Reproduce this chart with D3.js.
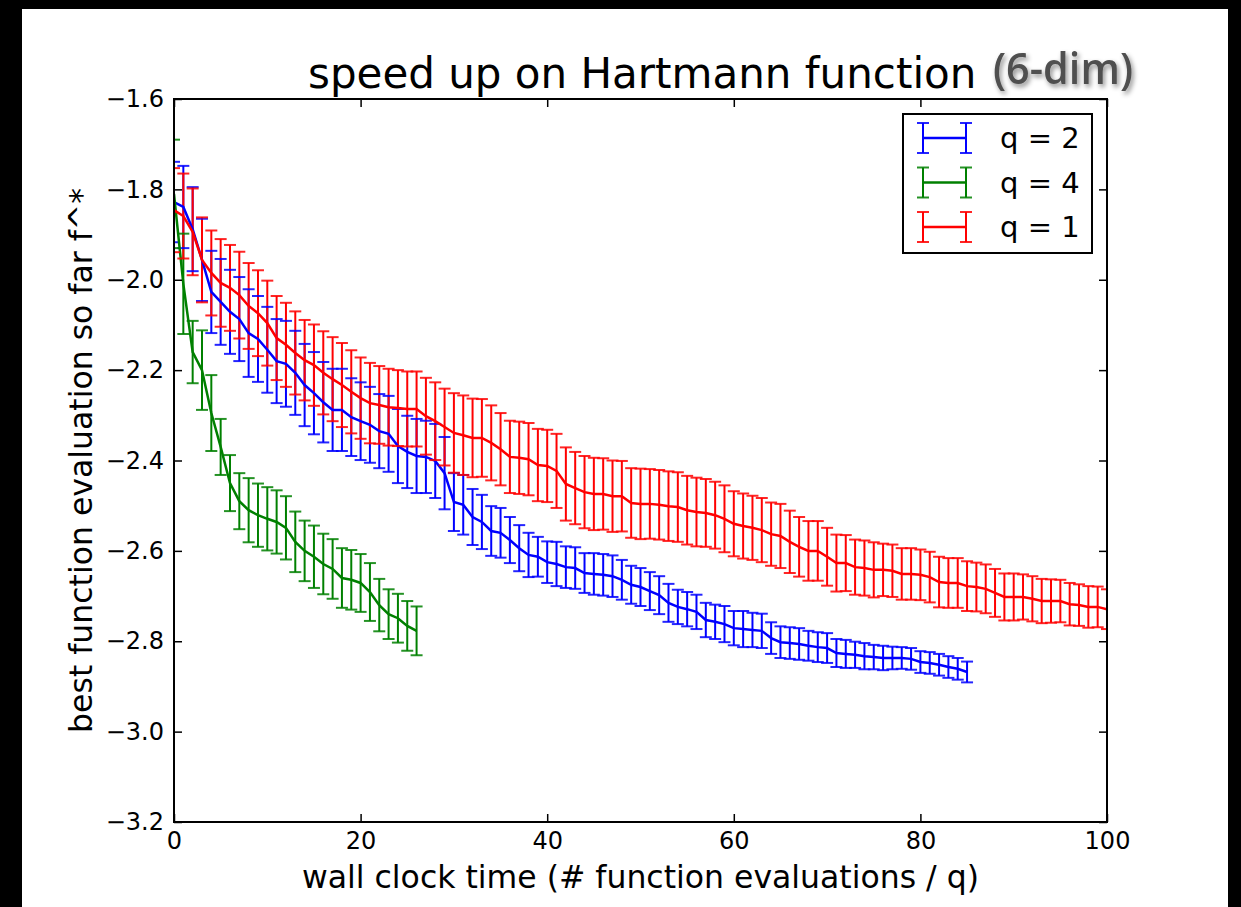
<!DOCTYPE html>
<html>
<head>
<meta charset="utf-8">
<script src="https://cdn.jsdelivr.net/npm/d3@7"></script>
<style>
  html, body { margin: 0; padding: 0; background: #000; }
  svg { display: block; }
  text { font-family: "DejaVu Sans", sans-serif; }
</style>
</head>
<body>
<svg id="chart" width="1241" height="907"></svg>
<script>
// values, one point per integer step of wall clock time
var q2_mean = [-1.828,-1.839,-1.888,-1.956,-2.027,-2.049,-2.071,-2.087,-2.118,-2.131,
  -2.155,-2.180,-2.186,-2.206,-2.233,-2.251,-2.271,-2.288,-2.288,-2.304,
  -2.313,-2.321,-2.335,-2.341,-2.368,-2.381,-2.390,-2.392,-2.401,-2.428,
  -2.492,-2.498,-2.525,-2.536,-2.556,-2.560,-2.576,-2.594,-2.609,-2.613,
  -2.625,-2.629,-2.636,-2.638,-2.649,-2.651,-2.653,-2.656,-2.664,-2.675,
  -2.680,-2.689,-2.698,-2.715,-2.724,-2.729,-2.735,-2.753,-2.757,-2.762,
  -2.771,-2.773,-2.775,-2.777,-2.793,-2.802,-2.804,-2.806,-2.810,-2.813,
  -2.815,-2.826,-2.828,-2.830,-2.833,-2.835,-2.837,-2.837,-2.837,-2.839,
  -2.846,-2.848,-2.852,-2.857,-2.861,-2.868];
var q2_err = [0.089,0.091,0.093,0.091,0.091,0.095,0.093,0.093,0.097,0.095,
  0.095,0.093,0.095,0.093,0.091,0.091,0.089,0.091,0.091,0.086,
  0.086,0.084,0.082,0.084,0.082,0.080,0.082,0.080,0.082,0.080,
  0.064,0.066,0.062,0.060,0.055,0.055,0.051,0.051,0.049,0.044,
  0.046,0.049,0.046,0.046,0.044,0.046,0.046,0.046,0.044,0.042,
  0.042,0.042,0.042,0.042,0.038,0.038,0.038,0.038,0.038,0.040,
  0.038,0.040,0.038,0.038,0.035,0.035,0.035,0.035,0.033,0.033,
  0.033,0.031,0.031,0.029,0.029,0.027,0.027,0.025,0.024,0.024,
  0.024,0.024,0.024,0.024,0.024,0.023];

var q4_mean = [-1.810,-2.009,-2.160,-2.200,-2.295,-2.370,-2.450,-2.490,-2.510,-2.521,
  -2.529,-2.536,-2.549,-2.580,-2.600,-2.613,-2.629,-2.640,-2.660,-2.664,
  -2.671,-2.691,-2.720,-2.740,-2.749,-2.766,-2.777];
var q4_err = [0.120,0.111,0.069,0.088,0.084,0.062,0.062,0.062,0.071,0.070,
  0.070,0.070,0.070,0.067,0.067,0.069,0.067,0.066,0.066,0.066,
  0.064,0.064,0.058,0.055,0.054,0.055,0.054];

var q1_mean = [-1.846,-1.859,-1.894,-1.956,-1.985,-2.007,-2.018,-2.034,-2.058,-2.074,
  -2.096,-2.129,-2.144,-2.162,-2.178,-2.189,-2.206,-2.220,-2.233,-2.248,
  -2.262,-2.273,-2.277,-2.282,-2.284,-2.286,-2.286,-2.302,-2.313,-2.326,
  -2.339,-2.344,-2.350,-2.350,-2.361,-2.375,-2.392,-2.394,-2.397,-2.410,
  -2.412,-2.423,-2.452,-2.461,-2.470,-2.474,-2.474,-2.479,-2.479,-2.494,
  -2.496,-2.496,-2.498,-2.501,-2.503,-2.510,-2.514,-2.516,-2.521,-2.529,
  -2.540,-2.545,-2.549,-2.554,-2.563,-2.567,-2.580,-2.591,-2.600,-2.600,
  -2.613,-2.627,-2.627,-2.636,-2.638,-2.642,-2.642,-2.644,-2.651,-2.651,
  -2.653,-2.658,-2.669,-2.671,-2.671,-2.678,-2.680,-2.684,-2.693,-2.702,
  -2.702,-2.702,-2.706,-2.711,-2.711,-2.711,-2.718,-2.720,-2.724,-2.724,
  -2.729];
var q1_err = [0.093,0.094,0.096,0.094,0.094,0.097,0.095,0.096,0.095,0.095,0.094,
  0.093,0.093,0.092,0.089,0.090,0.092,0.093,0.093,0.092,0.090,
  0.089,0.086,0.085,0.084,0.083,0.083,0.085,0.086,0.085,0.088,
  0.088,0.087,0.086,0.083,0.080,0.080,0.080,0.080,0.080,0.080,
  0.082,0.081,0.080,0.080,0.080,0.079,0.079,0.078,0.077,0.078,
  0.077,0.077,0.077,0.077,0.076,0.076,0.075,0.074,0.074,0.072,
  0.072,0.071,0.071,0.070,0.071,0.069,0.066,0.066,0.066,0.064,
  0.063,0.062,0.061,0.061,0.061,0.058,0.058,0.057,0.057,0.056,
  0.056,0.056,0.055,0.055,0.055,0.054,0.054,0.053,0.052,0.052,
  0.050,0.050,0.049,0.048,0.047,0.047,0.046,0.046,0.045,0.044];

var series_names = ["q = 2", "q = 4", "q = 1"];
var series_colors = ["#0000ff", "#008000", "#ff0000"];
var x_ticks = [0, 20, 40, 60, 80, 100];
var y_ticks = [-3.2, -3.0, -2.8, -2.6, -2.4, -2.2, -2.0, -1.8, -1.6];

main();

function main() {
    var svg = d3.select("#chart");
    var L = 174, R = 1107, T = 99, B = 822;

    // slide background
    svg.append("rect")
        .attr("x", 22).attr("y", 9)
        .attr("width", 1206).attr("height", 910)
        .attr("fill", "#fff");

    var defs = svg.append("defs");
    defs.append("clipPath").attr("id", "plot_clip")
        .append("rect")
        .attr("x", L).attr("y", T)
        .attr("width", R - L).attr("height", B - T);
    var shadow = defs.append("filter").attr("id", "shadow")
        .attr("x", "-20%").attr("y", "-20%")
        .attr("width", "140%").attr("height", "160%");
    shadow.append("feDropShadow")
        .attr("dx", 2).attr("dy", 3)
        .attr("stdDeviation", 2.5)
        .attr("flood-color", "#000")
        .attr("flood-opacity", 0.45);

    var x = d3.scaleLinear().domain([0, 100]).range([L, R]);
    var y = d3.scaleLinear().domain([-3.2, -1.6]).range([B, T]);

    var series = [
        { mean: q2_mean, err: q2_err },
        { mean: q4_mean, err: q4_err },
        { mean: q1_mean, err: q1_err }
    ];
    series.forEach(function (s, k) {
        s.name = series_names[k];
        s.color = series_colors[k];
        s.pts = s.mean.map(function (m, i) {
            return { t: i, m: m, e: s.err[i] };
        });
    });

    var plot = svg.append("g").attr("clip-path", "url(#plot_clip)");

    // vertical error bars first (they sit under every line, like matplotlib collections)
    series.forEach(function (s) {
        plot.append("g")
            .selectAll("line")
            .data(s.pts)
            .enter().append("line")
            .attr("x1", function (d) { return x(d.t); })
            .attr("x2", function (d) { return x(d.t); })
            .attr("y1", function (d) { return y(d.m + d.e); })
            .attr("y2", function (d) { return y(d.m - d.e); })
            .attr("stroke", s.color)
            .attr("stroke-width", 2);
    });

    var line = d3.line()
        .x(function (d) { return x(d.t); })
        .y(function (d) { return y(d.m); });

    series.forEach(function (s) {
        plot.append("path")
            .datum(s.pts)
            .attr("d", line)
            .attr("fill", "none")
            .attr("stroke", s.color)
            .attr("stroke-width", 2.5);

        var caps = plot.append("g");
        [1, -1].forEach(function (sign) {
            caps.selectAll("line.c" + (sign > 0 ? "top" : "bot"))
                .data(s.pts)
                .enter().append("line")
                .attr("class", "c" + (sign > 0 ? "top" : "bot"))
                .attr("x1", function (d) { return x(d.t) - 6; })
                .attr("x2", function (d) { return x(d.t) + 6; })
                .attr("y1", function (d) { return y(d.m + sign * d.e); })
                .attr("y2", function (d) { return y(d.m + sign * d.e); })
                .attr("stroke", s.color)
                .attr("stroke-width", 2)
                .attr("opacity", 0.85);
        });
    });

    // axes, ticks pointing inwards on all four sides
    var fmt = d3.format(".1f");
    svg.append("g")
        .attr("class", "axis")
        .attr("transform", "translate(" + L + ",0)")
        .call(d3.axisLeft(y).tickValues(y_ticks).tickSize(-8).tickPadding(10).tickFormat(fmt));
    svg.append("g")
        .attr("class", "axis")
        .attr("transform", "translate(" + R + ",0)")
        .call(d3.axisRight(y).tickValues(y_ticks).tickSize(-8).tickFormat(""));
    svg.append("g")
        .attr("class", "axis")
        .attr("transform", "translate(0," + B + ")")
        .call(d3.axisBottom(x).tickValues(x_ticks).tickSize(-8).tickPadding(10).tickFormat(d3.format("d")));
    svg.append("g")
        .attr("class", "axis")
        .attr("transform", "translate(0," + T + ")")
        .call(d3.axisTop(x).tickValues(x_ticks).tickSize(-8).tickFormat(""));

    svg.selectAll(".axis .domain").remove();
    svg.selectAll(".axis line").attr("stroke", "#000").attr("stroke-width", 1.5);
    svg.selectAll(".axis text")
        .attr("fill", "#000")
        .style("font-family", "DejaVu Sans")
        .style("font-size", "24px");

    svg.append("rect")
        .attr("x", L).attr("y", T)
        .attr("width", R - L).attr("height", B - T)
        .attr("fill", "none")
        .attr("stroke", "#000")
        .attr("stroke-width", 2);

    // titles
    svg.append("text")
        .attr("x", 308).attr("y", 88)
        .style("font-size", "42px")
        .attr("fill", "#000")
        .text("speed up on Hartmann function");
    svg.append("text")
        .attr("x", 993).attr("y", 84)
        .attr("textLength", 140)
        .attr("lengthAdjust", "spacingAndGlyphs")
        .style("font-family", "'Open Sans', sans-serif")
        .style("font-size", "44px")
        .style("font-weight", 600)
        .attr("fill", "#505050")
        .attr("filter", "url(#shadow)")
        .text("(6-dim)");

    svg.append("text")
        .attr("x", (L + R) / 2).attr("y", 888)
        .attr("text-anchor", "middle")
        .style("font-size", "31.5px")
        .text("wall clock time (# function evaluations / q)");
    svg.append("text")
        .attr("transform", "translate(92," + ((T + B) / 2) + ") rotate(-90)")
        .attr("text-anchor", "middle")
        .style("font-size", "31.5px")
        .text("best function evaluation so far f^*");

    // legend
    var lg = svg.append("g").attr("transform", "translate(903,114)");
    lg.append("rect")
        .attr("width", 189).attr("height", 139)
        .attr("fill", "#fff")
        .attr("stroke", "#000")
        .attr("stroke-width", 2);
    series.forEach(function (s, k) {
        var row = lg.append("g").attr("transform", "translate(0," + (24 + k * 44.5) + ")");
        row.append("line")
            .attr("x1", 20).attr("x2", 63)
            .attr("stroke", s.color).attr("stroke-width", 2.5);
        [20, 63].forEach(function (cx) {
            row.append("line")
                .attr("x1", cx).attr("x2", cx)
                .attr("y1", -15).attr("y2", 15)
                .attr("stroke", s.color).attr("stroke-width", 2);
            [-15, 15].forEach(function (cy) {
                row.append("line")
                    .attr("x1", cx - 6).attr("x2", cx + 6)
                    .attr("y1", cy).attr("y2", cy)
                    .attr("stroke", s.color).attr("stroke-width", 2)
                    .attr("opacity", 0.85);
            });
        });
        row.append("text")
            .attr("x", 97).attr("y", 0)
            .attr("dy", "0.35em")
            .style("font-size", "29px")
            .text(s.name);
    });
}
</script>
</body>
</html>
